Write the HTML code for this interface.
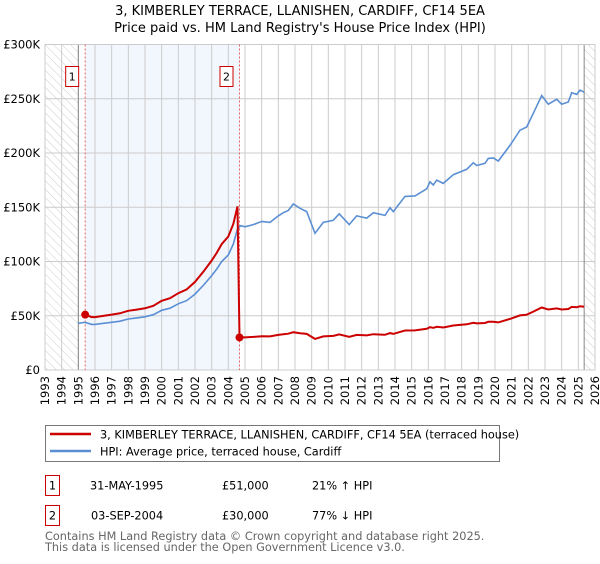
<!DOCTYPE html>
<html><head><meta charset="utf-8">
<style>
body{margin:0;background:#fff;font-family:"DejaVu Sans","Liberation Sans",sans-serif;}
svg text{font-family:"DejaVu Sans","Liberation Sans",sans-serif;}
</style></head>
<body>
<svg id="chart" width="600" height="560" viewBox="0 0 600 560" xmlns="http://www.w3.org/2000/svg">
<defs>
<pattern id="hatch" width="6" height="6" patternUnits="userSpaceOnUse" patternTransform="rotate(-45)">
<line x1="0" y1="0" x2="0" y2="6" stroke="#ccc" stroke-width="1"/>
</pattern>
</defs>
<text x="300" y="15" text-anchor="middle" font-size="13" fill="#000">3, KIMBERLEY TERRACE, LLANISHEN, CARDIFF, CF14 5EA</text>
<text x="300" y="32" text-anchor="middle" font-size="13" fill="#000">Price paid vs. HM Land Registry's House Price Index (HPI)</text>
<g id="plot"></g>
<g>
<rect x="45.5" y="425.5" width="454" height="36" fill="#fff" stroke="#777"/>
<line x1="50" y1="434" x2="91" y2="434" stroke="#cc0000" stroke-width="2.5"/>
<text x="100" y="438.5" font-size="11.3">3, KIMBERLEY TERRACE, LLANISHEN, CARDIFF, CF14 5EA (terraced house)</text>
<line x1="50" y1="451" x2="91" y2="451" stroke="#5b8fd4" stroke-width="2.5"/>
<text x="100" y="455.5" font-size="11.3">HPI: Average price, terraced house, Cardiff</text>
</g>
<g font-size="11.3">
<rect x="45.5" y="475.5" width="14" height="20" fill="#fff" stroke="#cc0000"/>
<text x="52.5" y="489.5" text-anchor="middle">1</text>
<text x="90" y="489.5">31-MAY-1995</text>
<text x="222" y="489.5">£51,000</text>
<text x="312" y="489.5">21% ↑ HPI</text>
<rect x="45.5" y="505.5" width="14" height="20" fill="#fff" stroke="#cc0000"/>
<text x="52.5" y="519.5" text-anchor="middle">2</text>
<text x="91" y="519.5">03-SEP-2004</text>
<text x="222" y="519.5">£30,000</text>
<text x="312" y="519.5">77% ↓ HPI</text>
</g>
<text x="45" y="540" font-size="11.3" fill="#666">Contains HM Land Registry data © Crown copyright and database right 2025.</text>
<text x="45" y="551" font-size="11.3" fill="#666">This data is licensed under the Open Government Licence v3.0.</text>
</svg>
<script>
const hpiYears=[1995.0,1995.4,1995.8,1996.0,1996.5,1997.0,1997.5,1998.0,1998.5,1999.0,1999.5,2000.0,2000.5,2001.0,2001.5,2002.0,2002.5,2003.0,2003.3,2003.6,2004.0,2004.3,2004.55,2004.75,2005.0,2005.5,2006.0,2006.5,2007.0,2007.3,2007.6,2007.9,2008.3,2008.7,2009.2,2009.7,2010.3,2010.65,2011.25,2011.7,2012.3,2012.7,2013.4,2013.7,2013.9,2014.6,2015.2,2015.9,2016.1,2016.3,2016.5,2016.9,2017.5,2018.3,2018.7,2018.9,2019.4,2019.6,2019.9,2020.2,2020.9,2021.5,2021.9,2022.3,2022.8,2023.2,2023.7,2024.0,2024.4,2024.6,2024.9,2025.1,2025.35];
const hpiValues=[43,44,42,42,43,44,45,47,48,49,51,55,57,61,64,70,78,87,93,100,106,116,130,133,132,134,137,136,142,145,147,153,149,146,126,136,138,144,134,142,140,145,142.5,149.6,146,160,160.5,167,173.5,170.5,175,172,180,185,191,188.5,190.5,195,195.5,192.6,207,221,224,236.6,253,245,249.5,245,247,255.6,254,258,256];
const saleYears=[1995.41,2004.67];
const salePrices=[51,30];
const saleLabels=["1","2"];
const yTicks=[0,50,100,150,200,250,300];
const yTickLabels=["£0","£50K","£100K","£150K","£200K","£250K","£300K"];
const xTickYears=[];for(let y=1993;y<=2026;y++)xTickYears.push(y);

const L=45,R=595,T=44.5,B=370,Y0=1993,Y1=2026,VMAX=300,DATA_END=2025.35;
const sx=y=>L+(y-Y0)/(Y1-Y0)*(R-L);
const sy=v=>B-v/VMAX*(B-T);
const NS="http://www.w3.org/2000/svg";
const g=document.getElementById('plot');
function mk(tag,attrs,parent){const e=document.createElementNS(NS,tag);for(const k in attrs)e.setAttribute(k,attrs[k]);(parent||g).appendChild(e);return e;}
function hpiAt(y){for(let i=0;i<hpiYears.length-1;i++){if(y<=hpiYears[i+1]){const t=(y-hpiYears[i])/(hpiYears[i+1]-hpiYears[i]);return hpiValues[i]+t*(hpiValues[i+1]-hpiValues[i]);}}return hpiValues[hpiValues.length-1];}

let h1=mk('rect',{x:L,y:T,width:sx(1995)-L,height:B-T,fill:'url(#hatch)'});


let h2=mk('rect',{x:sx(DATA_END),y:T,width:R-sx(DATA_END),height:B-T,fill:'url(#hatch)'});


let sh=mk('rect',{x:sx(saleYears[0]),y:T,width:sx(saleYears[1])-sx(saleYears[0]),height:B-T,fill:'#eef3fc',opacity:0.75});



xTickYears.forEach(y=>{
  const l=mk('line',{x1:sx(y),x2:sx(y),y1:T,y2:B,stroke:'#ccc','stroke-width':1});
  
  
  const t=mk('text',{x:0,y:0,'font-size':11.5,'text-anchor':'end',transform:`translate(${sx(y)+4},${B+6}) rotate(-90)`});
  t.textContent=y;
  
  
});
yTicks.forEach((v,i)=>{
  const l=mk('line',{x1:L,x2:R,y1:sy(v),y2:sy(v),stroke:'#ccc','stroke-width':1});
  
  
  const t=mk('text',{x:L-5,y:sy(v)+4,'font-size':11.5,'text-anchor':'end'});
  t.textContent=yTickLabels[i];
  
  
});
[1995,DATA_END].forEach(y=>{mk('line',{x1:sx(y),x2:sx(y),y1:T,y2:B,stroke:'#888','stroke-width':1});});
let fr=mk('rect',{x:L,y:T,width:R-L,height:B-T,fill:'none',stroke:'#ccc'});



saleYears.forEach((y,i)=>{
  const l=mk('line',{x1:sx(y),x2:sx(y),y1:T,y2:B,stroke:'#e06060','stroke-width':1,'stroke-dasharray':'2,2'});
  
  
  const bx=mk('rect',{x:sx(y)-19.5,y:66.5,width:13,height:20,fill:'#fff',stroke:'#cc0000'});
  
  
  const t=mk('text',{x:sx(y)-13,y:80.5,'font-size':11,'text-anchor':'middle'});
  t.textContent=saleLabels[i];
});

let d='';hpiYears.forEach((y,i)=>{d+=(i?'L':'M')+sx(y).toFixed(1)+','+sy(hpiValues[i]).toFixed(1);});
let hp=mk('path',{d,fill:'none',stroke:'#5b8fd4','stroke-width':1.6});



let pd='';
const r1=salePrices[0]/hpiAt(saleYears[0]);
const r2=salePrices[1]/hpiAt(saleYears[1]);
let pts=[[saleYears[0],salePrices[0]]];
hpiYears.forEach((y,i)=>{if(y>saleYears[0]&&y<saleYears[1])pts.push([y,hpiValues[i]*r1]);});
pts.push([saleYears[1],salePrices[1]]);
hpiYears.forEach((y,i)=>{if(y>saleYears[1])pts.push([y,hpiValues[i]*r2]);});
pts.forEach((p,i)=>{pd+=(i?'L':'M')+sx(p[0]).toFixed(1)+','+sy(p[1]).toFixed(1);});
let pp=mk('path',{d:pd,fill:'none',stroke:'#cc0000','stroke-width':2});



saleYears.forEach((y,i)=>{
  const c=mk('circle',{cx:sx(y),cy:sy(salePrices[i]),r:4,fill:'#cc0000'});
  
  
});
</script>
</body></html>
